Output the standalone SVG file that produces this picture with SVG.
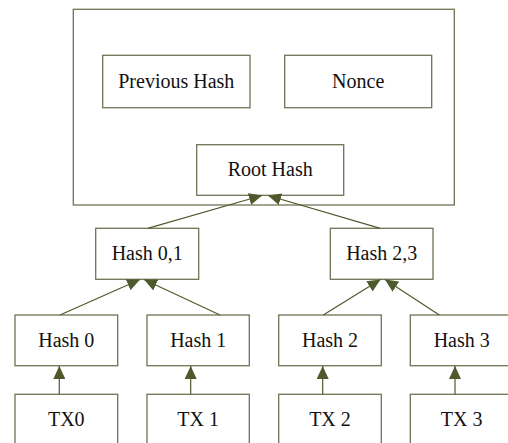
<svg xmlns="http://www.w3.org/2000/svg" width="508" height="443" viewBox="0 0 508 443">
<style>
.box{fill:#ffffff;stroke:#727256;stroke-width:1.3}
.lbl{font-family:"Liberation Serif","Times New Roman",serif;font-size:20px;fill:#111111;text-anchor:middle}
.edge{stroke:#4e5a2c;stroke-width:1.2;fill:none;marker-end:url(#ah)}
</style>
<defs>
<marker id="ah" markerUnits="userSpaceOnUse" markerWidth="14" markerHeight="12" viewBox="0 0 14 12" refX="13" refY="6" orient="auto">
<path d="M0,0 L13,6 L0,12 Z" fill="#4e5a2c"/>
</marker>
</defs>
<rect width="508" height="443" fill="#ffffff"/>
<g id="block">
<rect class="box" x="73.3" y="9.3" width="381" height="195.7"/>
</g>
<g id="prev">
<rect class="box" x="102.7" y="55.3" width="147.3" height="52.4"/>
<text class="lbl" x="176.3" y="88.3">Previous Hash</text>
</g>
<g id="nonce">
<rect class="box" x="284.7" y="55.3" width="147" height="52.4"/>
<text class="lbl" x="358.2" y="88.3">Nonce</text>
</g>
<g id="root">
<rect class="box" x="196.7" y="144.7" width="147" height="50.6"/>
<text class="lbl" x="270.2" y="176">Root Hash</text>
</g>
<g id="h01">
<rect class="box" x="95.7" y="228.3" width="103" height="51"/>
<text class="lbl" x="147.2" y="260">Hash 0,1</text>
</g>
<g id="h23">
<rect class="box" x="330.3" y="228.3" width="102.7" height="51"/>
<text class="lbl" x="381.7" y="260">Hash 2,3</text>
</g>
<g id="h0">
<rect class="box" x="15" y="315" width="102.7" height="50.7"/>
<text class="lbl" x="66.3" y="347">Hash 0</text>
</g>
<g id="h1">
<rect class="box" x="147" y="315" width="102.3" height="50.7"/>
<text class="lbl" x="198.2" y="347">Hash 1</text>
</g>
<g id="h2">
<rect class="box" x="278.7" y="315" width="102.6" height="50.7"/>
<text class="lbl" x="330" y="347">Hash 2</text>
</g>
<g id="h3">
<rect class="box" x="410.3" y="315" width="102.7" height="50.7"/>
<text class="lbl" x="461.7" y="347">Hash 3</text>
</g>
<g id="tx0">
<rect class="box" x="15" y="394.3" width="102.7" height="51"/>
<text class="lbl" x="66.3" y="426">TX0</text>
</g>
<g id="tx1">
<rect class="box" x="147" y="394.3" width="102.3" height="51"/>
<text class="lbl" x="198.2" y="426">TX 1</text>
</g>
<g id="tx2">
<rect class="box" x="278.7" y="394.3" width="102.6" height="51"/>
<text class="lbl" x="330" y="426">TX 2</text>
</g>
<g id="tx3">
<rect class="box" x="410.3" y="394.3" width="102.7" height="51"/>
<text class="lbl" x="461.7" y="426">TX 3</text>
</g>
<g id="connectors">
<line class="edge" x1="59.3" y1="394.3" x2="59.3" y2="366"/>
<line class="edge" x1="190.7" y1="394.3" x2="190.7" y2="366"/>
<line class="edge" x1="322.7" y1="394.3" x2="322.7" y2="366"/>
<line class="edge" x1="455" y1="394.3" x2="455" y2="366"/>
<line class="edge" x1="60" y1="315" x2="140" y2="279.5"/>
<line class="edge" x1="220" y1="315" x2="144" y2="279.5"/>
<line class="edge" x1="323.3" y1="315" x2="380.5" y2="279.5"/>
<line class="edge" x1="439.3" y1="315" x2="385" y2="279.5"/>
<line class="edge" x1="147.7" y1="228.3" x2="262" y2="195.5"/>
<line class="edge" x1="380.3" y1="228.3" x2="268" y2="195.5"/>
</g>
</svg>
